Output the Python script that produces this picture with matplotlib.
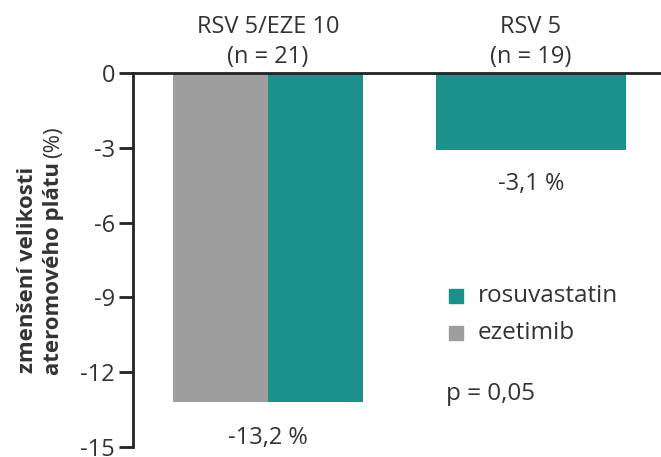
import matplotlib
matplotlib.use("Agg")
import matplotlib.pyplot as plt
from matplotlib.patches import Rectangle
from matplotlib.transforms import blended_transform_factory

plt.rcParams["font.family"] = ["Open Sans", "DejaVu Sans"]

# data
groups = ["RSV 5/EZE 10", "RSV 5"]
group_n = ["(n = 21)", "(n = 19)"]
ezetimib = [-13.2, None]
rosuvastatin = [-13.2, -3.1]
value_labels = ["-13,2 %", "-3,1 %"]
yticks = [0, -3, -6, -9, -12, -15]

TEAL = "#1a918a"
GREY = "#9e9e9e"
TXT = "#333333"
W, H = 661, 457
FS = 17

fig = plt.figure(figsize=(W / 100, H / 100), dpi=100)
ax = fig.add_axes([133 / W, 10 / H, (W - 133) / W, (447 - 73) / H])

bw = 0.361
# group 1: grey + teal side by side, group 2: single wide teal bar
ax.bar(0 - bw / 2, ezetimib[0], width=bw, color=GREY)
ax.bar(0 + bw / 2, rosuvastatin[0], width=bw, color=TEAL)
ax.bar(1, rosuvastatin[1], width=2 * bw, color=TEAL)

ax.set_xlim(-0.513, 1.494)
ax.set_ylim(-15, 0)
ax.set_yticks(yticks)
ax.set_yticklabels([str(t) for t in yticks], fontsize=FS, color=TXT)
ax.set_xticks([])
ax.tick_params(axis="y", length=10, width=2, direction="out", pad=3, colors="#222222")
ax.yaxis.set_tick_params(labelcolor=TXT)
for s in ["top", "right", "bottom"]:
    ax.spines[s].set_visible(False)
ax.spines["left"].set_linewidth(2)
ax.spines["left"].set_color("#222222")
ax.axhline(0, color="#222222", lw=2, zorder=5, clip_on=False)

# group headers above the axis
tr = blended_transform_factory(ax.transData, fig.transFigure)
for i, (g, n) in enumerate(zip(groups, group_n)):
    ax.text(i, 1 - 27 / H, g, transform=tr, ha="center", va="center", fontsize=FS, color=TXT)
    ax.text(i, 1 - 57 / H, n, transform=tr, ha="center", va="center", fontsize=FS, color=TXT)

# value labels
ax.text(0, 1 - 438 / H, value_labels[0], transform=tr, ha="center", va="center", fontsize=FS, color=TXT)
ax.text(1, 1 - 184 / H, value_labels[1], transform=tr, ha="center", va="center", fontsize=FS, color=TXT)

# legend
for y, col, lab in [(296, TEAL, "rosuvastatin"), (333, GREY, "ezetimib")]:
    fig.patches.append(Rectangle((449 / W, 1 - (y + 7) / H), 14 / W, 14 / H,
                                 transform=fig.transFigure, color=col))
    fig.text(478 / W, 1 - y / H, lab, ha="left", va="center", fontsize=FS + 0.5, color=TXT)
fig.text(446 / W, 1 - 394 / H, "p = 0,05", ha="left", va="center", fontsize=FS + 0.5, color=TXT)

# y label: two lines, second partly bold
fig.text(28 / W, 1 - 270 / H, "zmenšení velikosti", rotation=90, ha="center", va="center",
         fontsize=16, fontweight="bold", color=TXT)
split = 162
fig.text(54 / W, 1 - split / H, "ateromového plátu", rotation=90, rotation_mode="anchor",
         ha="right", va="center", fontsize=16, fontweight="bold", color=TXT)
fig.text(54 / W, 1 - (split - 4) / H, "(%)", rotation=90, rotation_mode="anchor",
         ha="left", va="center", fontsize=16, color=TXT)

fig.savefig("out.png", dpi=100)
